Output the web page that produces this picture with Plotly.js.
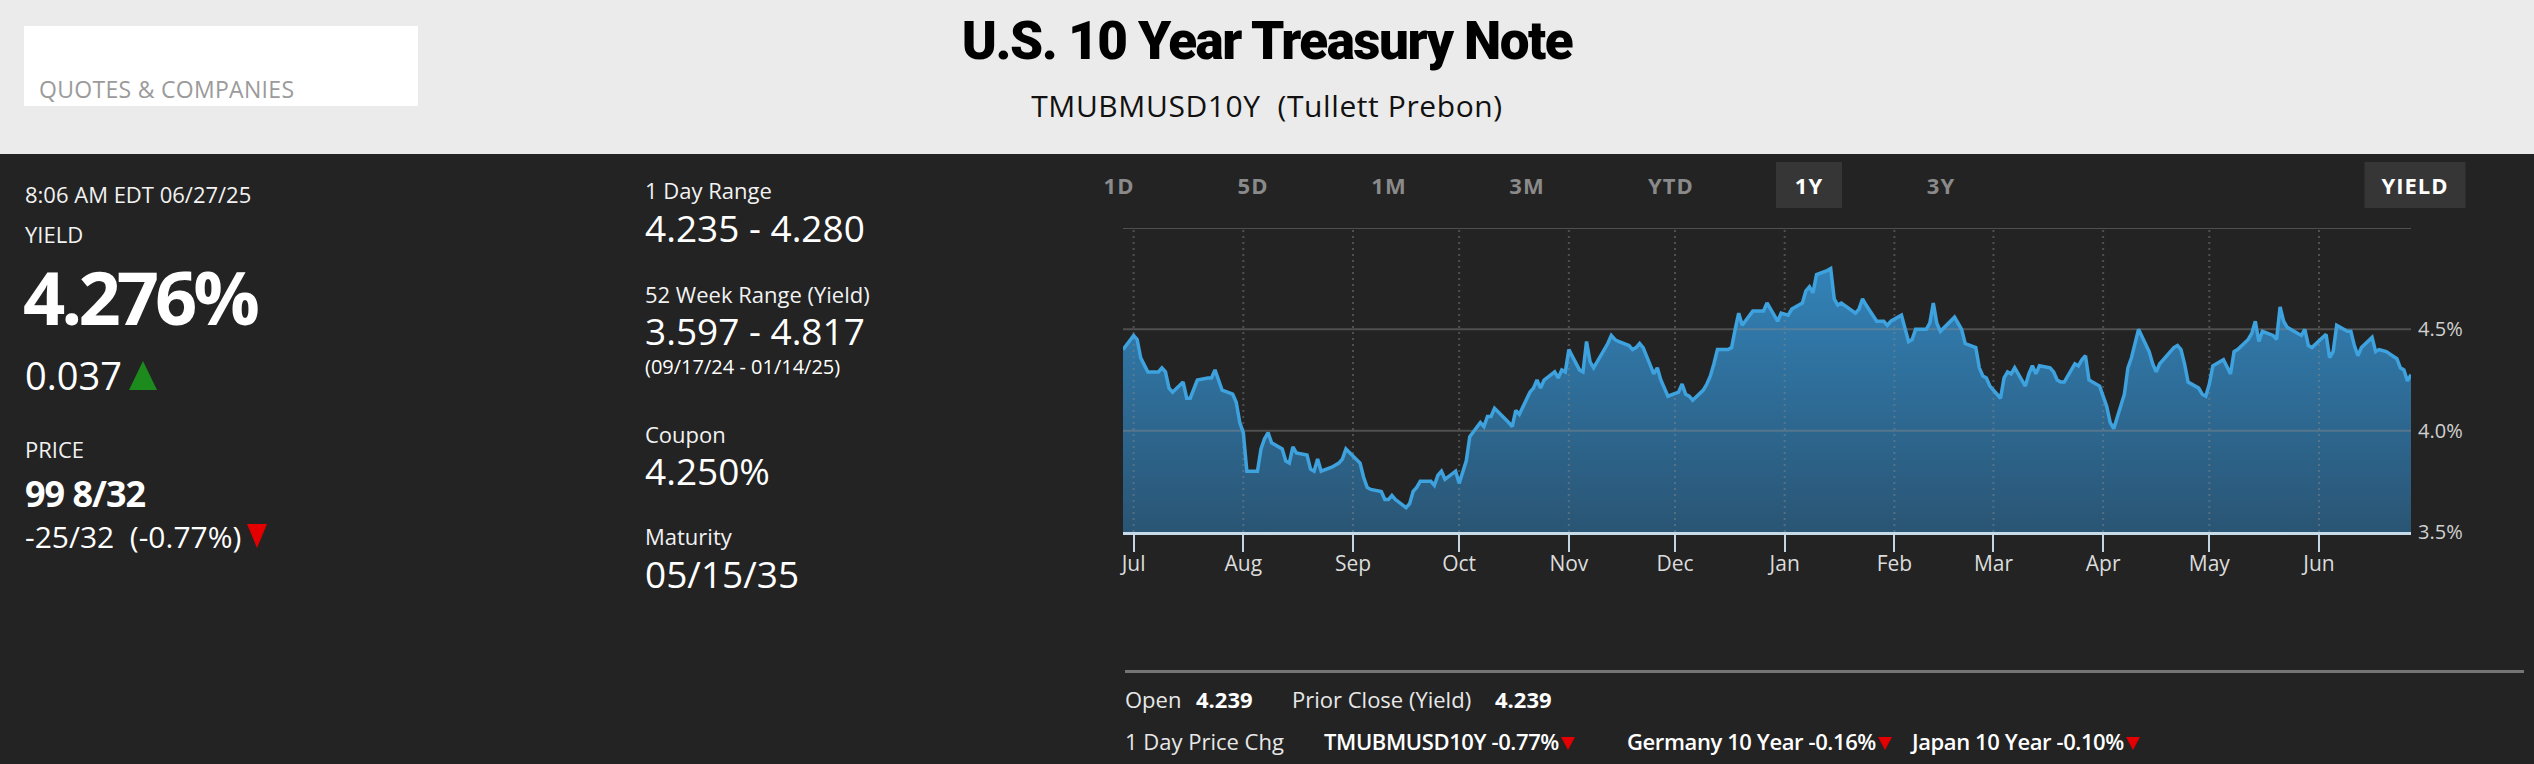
<!DOCTYPE html>
<html>
<head>
<meta charset="utf-8">
<script src="https://cdn.plot.ly/plotly-3.0.1.min.js"></script>
<style>
html,body{margin:0;padding:0;width:2534px;height:764px;overflow:hidden;background:#232323;font-family:"Open Sans",sans-serif;color:#fff;}
.abs{position:absolute;white-space:nowrap;line-height:1;}
#header{position:absolute;left:0;top:0;width:2534px;height:154px;background:#ebebeb;}
#qbox{position:absolute;left:24px;top:26px;width:394px;height:80px;background:#fff;}
.lbl{font-size:22px;color:#f2f2f2;}
.big{font-size:37px;color:#fff;}
.btn{position:absolute;top:162px;height:46px;line-height:46px;font-size:22px;font-weight:700;color:#8a8a8a;letter-spacing:1px;text-align:center;transform:translateX(-50%);}
.btn.on{background:#363636;color:#fff;}
.tri-up{display:inline-block;width:0;height:0;border-left:14px solid transparent;border-right:14px solid transparent;border-bottom:29px solid #1c8a1c;}
.tri-dn{display:inline-block;width:0;height:0;border-left:7px solid transparent;border-right:7px solid transparent;border-top:13px solid #e40000;margin-left:2px;}
.tri-dn-big{display:inline-block;width:0;height:0;border-left:10px solid transparent;border-right:10px solid transparent;border-top:24px solid #e40000;margin-left:6px;}
.row{font-size:22px;color:#e8e8e8;}
.b{font-weight:700;color:#fff;}
.sb{font-weight:600;color:#fff;letter-spacing:-0.4px;}
#chart{position:absolute;left:1100px;top:160px;width:1400px;height:440px;}
</style>
</head>
<body>
<div id="header"></div>
<div id="qbox"></div>
<div class="abs" style="left:39px;top:78px;font-size:23px;letter-spacing:0.3px;color:#9b9b9b;">QUOTES &amp; COMPANIES</div>
<div class="abs" style="left:0;top:15px;width:2534px;text-align:center;font-family:Roboto,sans-serif;font-weight:900;font-size:53px;letter-spacing:-1.5px;color:#000;">U.S. 10 Year Treasury Note</div>
<div class="abs" style="left:0;top:91px;width:2534px;text-align:center;font-size:30px;letter-spacing:0.6px;color:#111;">TMUBMUSD10Y&nbsp;&nbsp;(Tullett Prebon)</div>

<!-- left column -->
<div class="abs lbl" style="left:25px;top:183px;">8:06 AM EDT 06/27/25</div>
<div class="abs lbl" style="left:25px;top:223px;">YIELD</div>
<div class="abs" style="left:23px;top:260px;font-size:74px;font-weight:700;letter-spacing:-4px;">4.276%</div>
<div class="abs" style="left:25px;top:356px;font-size:38px;">0.037<span class="tri-up" style="margin-left:7px;"></span></div>
<div class="abs lbl" style="left:25px;top:438px;">PRICE</div>
<div class="abs" style="left:25px;top:476px;font-size:36px;font-weight:700;letter-spacing:-1px;">99 8/32</div>
<div class="abs" style="left:25px;top:522px;font-size:30px;">-25/32&nbsp;&nbsp;(-0.77%)<span class="tri-dn-big"></span></div>

<!-- middle column -->
<div class="abs lbl" style="left:645px;top:179px;">1 Day Range</div>
<div class="abs big" style="left:645px;top:209px;">4.235 - 4.280</div>
<div class="abs lbl" style="left:645px;top:283px;">52 Week Range (Yield)</div>
<div class="abs big" style="left:645px;top:312px;">3.597 - 4.817</div>
<div class="abs" style="left:645px;top:357px;font-size:20px;">(09/17/24 - 01/14/25)</div>
<div class="abs lbl" style="left:645px;top:423px;">Coupon</div>
<div class="abs big" style="left:645px;top:452px;">4.250%</div>
<div class="abs lbl" style="left:645px;top:525px;">Maturity</div>
<div class="abs big" style="left:645px;top:555px;">05/15/35</div>

<!-- range buttons -->
<div class="btn" style="left:1119px;width:50px;">1D</div>
<div class="btn" style="left:1253px;width:50px;">5D</div>
<div class="btn" style="left:1389px;width:50px;">1M</div>
<div class="btn" style="left:1527px;width:50px;">3M</div>
<div class="btn" style="left:1671px;width:60px;">YTD</div>
<div class="btn on" style="left:1809px;width:66px;">1Y</div>
<div class="btn" style="left:1941px;width:50px;">3Y</div>
<div class="btn on" style="left:2415px;width:101px;">YIELD</div>

<div id="chart"></div>

<!-- bottom strip -->
<div style="position:absolute;left:1125px;top:670px;width:1399px;height:3px;background:#757575;"></div>
<div class="abs row" style="left:1125px;top:688px;">Open</div>
<div class="abs row b" style="left:1196px;top:688px;">4.239</div>
<div class="abs row" style="left:1292px;top:688px;">Prior Close (Yield)</div>
<div class="abs row b" style="left:1495px;top:688px;">4.239</div>
<div class="abs row" style="left:1125px;top:730px;">1 Day Price Chg</div>
<div class="abs row sb" style="left:1324px;top:730px;">TMUBMUSD10Y -0.77%<span class="tri-dn"></span></div>
<div class="abs row sb" style="left:1627px;top:730px;">Germany 10 Year -0.16%<span class="tri-dn"></span></div>
<div class="abs row sb" style="left:1912px;top:730px;">Japan 10 Year -0.10%<span class="tri-dn"></span></div>

<script>
const dates = [
'2024-06-28','2024-07-01','2024-07-02','2024-07-03','2024-07-05','2024-07-08','2024-07-09','2024-07-10','2024-07-11','2024-07-12',
'2024-07-15','2024-07-16','2024-07-17','2024-07-18','2024-07-19','2024-07-22','2024-07-23','2024-07-24','2024-07-25','2024-07-26',
'2024-07-29','2024-07-30','2024-07-31','2024-08-01','2024-08-02','2024-08-05','2024-08-06','2024-08-07','2024-08-08','2024-08-09',
'2024-08-12','2024-08-13','2024-08-14','2024-08-15','2024-08-16','2024-08-19','2024-08-20','2024-08-21','2024-08-22','2024-08-23',
'2024-08-26','2024-08-27','2024-08-28','2024-08-29','2024-08-30','2024-09-03','2024-09-04','2024-09-05','2024-09-06','2024-09-09',
'2024-09-10','2024-09-11','2024-09-12','2024-09-13','2024-09-16','2024-09-17','2024-09-18','2024-09-19','2024-09-20','2024-09-23',
'2024-09-24','2024-09-25','2024-09-26','2024-09-27','2024-09-30','2024-10-01','2024-10-02','2024-10-03','2024-10-04','2024-10-07',
'2024-10-08','2024-10-09','2024-10-10','2024-10-11','2024-10-15','2024-10-16','2024-10-17','2024-10-18','2024-10-21','2024-10-22',
'2024-10-23','2024-10-24','2024-10-25','2024-10-28','2024-10-29','2024-10-30','2024-10-31','2024-11-01','2024-11-04','2024-11-05',
'2024-11-06','2024-11-07','2024-11-08','2024-11-12','2024-11-13','2024-11-14','2024-11-15','2024-11-18','2024-11-19','2024-11-20',
'2024-11-21','2024-11-22','2024-11-25','2024-11-26','2024-11-27','2024-11-29','2024-12-02','2024-12-03','2024-12-04','2024-12-05',
'2024-12-06','2024-12-09','2024-12-10','2024-12-11','2024-12-12','2024-12-13','2024-12-16','2024-12-17','2024-12-18','2024-12-19',
'2024-12-20','2024-12-23','2024-12-24','2024-12-26','2024-12-27','2024-12-30','2024-12-31','2025-01-02','2025-01-03','2025-01-06',
'2025-01-07','2025-01-08','2025-01-09','2025-01-10','2025-01-13','2025-01-14','2025-01-15','2025-01-16','2025-01-17','2025-01-21',
'2025-01-22','2025-01-23','2025-01-24','2025-01-27','2025-01-28','2025-01-29','2025-01-30','2025-01-31','2025-02-03','2025-02-04',
'2025-02-05','2025-02-06','2025-02-07','2025-02-10','2025-02-11','2025-02-12','2025-02-13','2025-02-14','2025-02-18','2025-02-19',
'2025-02-20','2025-02-21','2025-02-24','2025-02-25','2025-02-26','2025-02-27','2025-02-28','2025-03-03','2025-03-04','2025-03-05',
'2025-03-06','2025-03-07','2025-03-10','2025-03-11','2025-03-12','2025-03-13','2025-03-14','2025-03-17','2025-03-18','2025-03-19',
'2025-03-20','2025-03-21','2025-03-24','2025-03-25','2025-03-26','2025-03-27','2025-03-28','2025-03-31','2025-04-01','2025-04-02',
'2025-04-03','2025-04-04','2025-04-07','2025-04-08','2025-04-09','2025-04-10','2025-04-11','2025-04-14','2025-04-15','2025-04-16',
'2025-04-17','2025-04-21','2025-04-22','2025-04-23','2025-04-24','2025-04-25','2025-04-28','2025-04-29','2025-04-30','2025-05-01',
'2025-05-02','2025-05-05','2025-05-06','2025-05-07','2025-05-08','2025-05-09','2025-05-12','2025-05-13','2025-05-14','2025-05-15',
'2025-05-16','2025-05-19','2025-05-20','2025-05-21','2025-05-22','2025-05-23','2025-05-27','2025-05-28','2025-05-29','2025-05-30',
'2025-06-02','2025-06-03','2025-06-04','2025-06-05','2025-06-06','2025-06-09','2025-06-10','2025-06-11','2025-06-12','2025-06-13',
'2025-06-16','2025-06-17','2025-06-18','2025-06-20','2025-06-23','2025-06-24','2025-06-25','2025-06-26','2025-06-27'
];
const yields = [
4.40,4.47,4.45,4.36,4.29,4.29,4.31,4.29,4.21,4.19,
4.24,4.16,4.16,4.21,4.25,4.26,4.26,4.30,4.25,4.20,
4.18,4.14,4.04,3.99,3.80,3.80,3.91,3.96,3.99,3.94,
3.91,3.85,3.84,3.92,3.89,3.88,3.81,3.80,3.86,3.80,
3.82,3.83,3.84,3.86,3.91,3.84,3.77,3.72,3.71,3.70,
3.66,3.66,3.68,3.66,3.62,3.64,3.70,3.72,3.75,3.75,
3.73,3.78,3.80,3.76,3.80,3.74,3.79,3.85,3.97,4.04,
4.02,4.07,4.07,4.11,4.04,4.02,4.10,4.08,4.19,4.21,
4.25,4.21,4.25,4.29,4.26,4.30,4.29,4.40,4.30,4.29,
4.44,4.34,4.31,4.43,4.47,4.45,4.44,4.42,4.40,4.41,
4.43,4.41,4.28,4.31,4.25,4.17,4.19,4.23,4.18,4.17,
4.15,4.20,4.23,4.27,4.33,4.40,4.40,4.41,4.50,4.58,
4.52,4.59,4.59,4.59,4.63,4.54,4.58,4.57,4.60,4.63,
4.69,4.71,4.68,4.77,4.79,4.80,4.65,4.62,4.63,4.58,
4.60,4.65,4.62,4.54,4.54,4.54,4.52,4.54,4.57,4.50,
4.44,4.45,4.50,4.50,4.53,4.63,4.53,4.49,4.56,4.53,
4.50,4.43,4.41,4.31,4.27,4.26,4.22,4.16,4.26,4.29,
4.28,4.31,4.22,4.28,4.32,4.28,4.32,4.31,4.29,4.25,
4.24,4.24,4.33,4.32,4.35,4.37,4.25,4.22,4.17,4.12,
4.04,4.01,4.18,4.31,4.36,4.43,4.50,4.39,4.33,4.29,
4.33,4.41,4.42,4.40,4.33,4.24,4.21,4.18,4.17,4.23,
4.32,4.35,4.31,4.28,4.39,4.40,4.45,4.48,4.54,4.44,
4.49,4.47,4.45,4.61,4.54,4.51,4.47,4.50,4.42,4.41,
4.46,4.475,4.36,4.39,4.52,4.49,4.49,4.42,4.37,4.41,
4.46,4.39,4.40,4.39,4.355,4.31,4.30,4.245,4.276
];
const monthTicks = ['2024-07-01','2024-08-01','2024-09-01','2024-10-01','2024-11-01','2024-12-01',
                    '2025-01-01','2025-02-01','2025-03-01','2025-04-01','2025-05-01','2025-06-01'];
const monthLabels = ['Jul','Aug','Sep','Oct','Nov','Dec','Jan','Feb','Mar','Apr','May','Jun'];
const yTicks = [3.5, 4.0, 4.5, 5.0];
const yTickLabels = ['3.5%','4.0%','4.5%',''];

const xStart = dates[0], xEnd = dates[dates.length - 1];
const yMin = yTicks[0], yMax = yTicks[yTicks.length - 1];

// grid lines drawn as traces so they sit over the area fill but under the line
const hx = [], hy = [];
yTicks.slice(1).forEach(v => { hx.push(xStart, xEnd, null); hy.push(v, v, null); });
const vx = [], vy = [];
monthTicks.forEach(m => { vx.push(m, m, null); vy.push(yMin, yMax, null); });

const traces = [
  {x: dates, y: yields, type: 'scatter', mode: 'lines', fill: 'tozeroy',
   line: {width: 0, color: 'rgba(0,0,0,0)'},
   fillgradient: {type: 'vertical', start: 3.5, stop: 4.8,
                  colorscale: [[0, '#2a5574'], [1, '#3282b8']]},
   hoverinfo: 'skip', showlegend: false},
  {x: hx, y: hy, type: 'scatter', mode: 'lines',
   line: {width: 2, color: 'rgba(140,140,140,0.42)'}, hoverinfo: 'skip', showlegend: false},
  {x: vx, y: vy, type: 'scatter', mode: 'lines',
   line: {width: 2, color: 'rgba(140,140,140,0.42)', dash: '2px,4px'}, hoverinfo: 'skip', showlegend: false},
  {x: dates, y: yields, type: 'scatter', mode: 'lines',
   line: {width: 3.5, color: '#3ea2de'}, hoverinfo: 'skip', showlegend: false}
];

const layout = {
  width: 1400, height: 440,
  margin: {l: 23, r: 89, t: 68, b: 68},
  paper_bgcolor: 'rgba(0,0,0,0)', plot_bgcolor: 'rgba(0,0,0,0)',
  showlegend: false,
  xaxis: {type: 'date', range: [xStart, xEnd], tickmode: 'array', tickvals: monthTicks, ticktext: monthLabels,
          showgrid: false, zeroline: false, ticks: 'outside', ticklen: 17, tickwidth: 2, tickcolor: '#c4d4e2',
          ticklabelstandoff: -6,
          tickfont: {family: 'Open Sans', size: 21, color: '#dcdcdc'},
          showline: true, linecolor: '#c8dbe9', linewidth: 3, layer: 'above traces', automargin: false, fixedrange: true},
  yaxis: {range: [yMin, yMax], side: 'right', tickmode: 'array', tickvals: yTicks, ticktext: yTickLabels,
          showgrid: false, zeroline: false, ticks: '', showline: false, ticklabelstandoff: 6,
          tickfont: {family: 'Open Sans', size: 20, color: '#d0d0d0'}, automargin: false, fixedrange: true}
};

Plotly.newPlot('chart', traces, layout, {staticPlot: true, displayModeBar: false});
</script>
</body>
</html>
